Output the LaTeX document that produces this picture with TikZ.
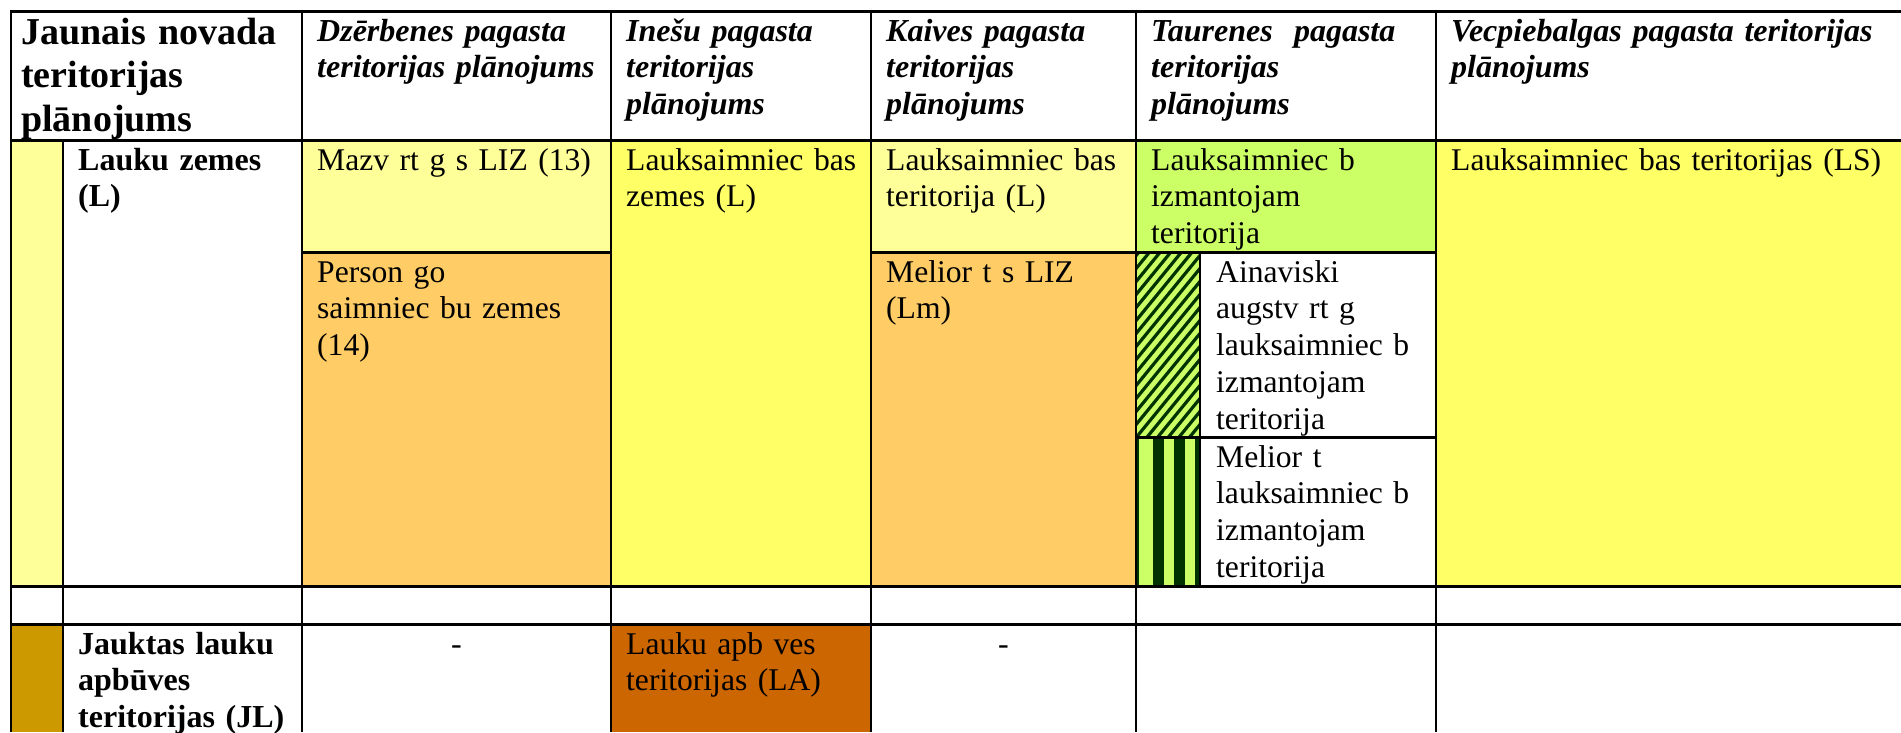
\documentclass[tikz,border=0pt]{standalone}
\usepackage{fontspec}
\setmainfont{Liberation Serif}
\definecolor{ltyel}{HTML}{FFFF99}
\definecolor{yel}{HTML}{FFFF66}
\definecolor{org}{HTML}{FFCC66}
\definecolor{grn}{HTML}{CCFF66}
\definecolor{gold}{HTML}{CC9900}
\definecolor{dorg}{HTML}{CC6600}
\definecolor{dgrn}{HTML}{003300}
\begin{document}
\begin{tikzpicture}[x=1pt,y=-1pt,
  hline/.style={line width=3pt},
  vline/.style={line width=2.4pt},
  firsthead/.style={anchor=base west,inner sep=0pt,align=left,text width=290pt,
    font=\fontsize{38}{43.5}\selectfont\bfseries},
  colhead/.style={anchor=base west,inner sep=0pt,align=left,text width=440pt,
    font=\fontsize{32}{36.8}\selectfont\bfseries\itshape},
  bodytext/.style={anchor=base west,inner sep=0pt,align=left,text width=440pt,
    font=\fontsize{31.6}{36.8}\selectfont},
  boldtext/.style={bodytext,font=\fontsize{32}{36.8}\selectfont\bfseries},
  dashtext/.style={anchor=base,inner sep=0pt,font=\fontsize{32}{36.8}\selectfont}]
\useasboundingbox (0,0) rectangle (1901,732);
\fill[white] (0,0) rectangle (1901,732);
% cell fills
\fill[ltyel] (11,140) rectangle (63,586);
\fill[ltyel] (302,140) rectangle (611,252);
\fill[org] (302,252) rectangle (611,586);
\fill[yel] (611,140) rectangle (871,586);
\fill[ltyel] (871,140) rectangle (1136,252);
\fill[org] (871,252) rectangle (1136,586);
\fill[grn] (1136,140) rectangle (1436,252);
\fill[yel] (1436,140) rectangle (1901,586);
\fill[gold] (11,624) rectangle (63,732);
\fill[dorg] (611,624) rectangle (871,732);
% diagonal hatch
\begin{scope}
  \clip (1136,252) rectangle (1200,437);
  \fill[grn] (1136,252) rectangle (1200,437);
  \foreach \k in {0,...,24}
    \draw[dgrn,line width=3.2pt] (1130,{250+\k*13}) -- ++(90,-110);
\end{scope}
% vertical stripes
\fill[grn] (1136,437) rectangle (1200,586);
\fill[dgrn] (1136,437) rectangle (1139,586);
\fill[dgrn] (1153,437) rectangle (1164,586);
\fill[dgrn] (1174,437) rectangle (1185,586);
\fill[dgrn] (1195,437) rectangle (1200,586);
% horizontal rules
\draw[hline] (11,11) -- (1901,11);
\draw[hline] (11,140) -- (1901,140);
\draw[hline] (302,252) -- (611,252);
\draw[hline] (871,252) -- (1436,252);
\draw[hline] (1136,437) -- (1436,437);
\draw[hline] (11,586) -- (1901,586);
\draw[hline] (11,624) -- (1901,624);
% vertical rules
\draw[vline] (11,9.5) -- (11,732);
\draw[vline] (63,140) -- (63,732);
\foreach \x in {302,611,871,1136,1436}
  \draw[vline] (\x,9.5) -- (\x,732);
\draw[vline] (1200,252) -- (1200,586);
% header texts
\node[firsthead] (h0) at (21,44) {Jaunais novada\\teritorijas\\plānojums};
\node[colhead] (h1) at (317,41) {Dzērbenes pagasta\\teritorijas plānojums};
\node[colhead] (h2) at (626,41) {Inešu pagasta\\teritorijas\\plānojums};
\node[colhead] (h3) at (886,41) {Kaives pagasta\\teritorijas\\plānojums};
\node[colhead] (h4) at (1151,41) {Taurenes\ \ pagasta\\teritorijas\\plānojums};
\node[colhead] (h5) at (1451,41) {Vecpiebalgas pagasta teritorijas\\plānojums};
% row 1
\node[boldtext] (c1) at (78,170) {Lauku zemes\\(L)};
\node[bodytext] (c2) at (317,170) {Mazv rt g s LIZ (13)};
\node[bodytext] (c3) at (317,282) {Person go\\saimniec bu zemes\\(14)};
\node[bodytext] (c4) at (626,170) {Lauksaimniec bas\\zemes (L)};
\node[bodytext] (c5) at (886,170) {Lauksaimniec bas\\teritorija (L)};
\node[bodytext] (c6) at (886,282) {Melior t s LIZ\\(Lm)};
\node[bodytext] (c7) at (1151,170) {Lauksaimniec b\\izmantojam\\teritorija};
\node[bodytext] (c8) at (1216,282) {Ainaviski\\augstv rt g\\lauksaimniec b\\izmantojam\\teritorija};
\node[bodytext] (c9) at (1216,467) {Melior t\\lauksaimniec b\\izmantojam\\teritorija};
\node[bodytext] (c10) at (1451,170) {Lauksaimniec bas teritorijas (LS)};
% row 3
\node[boldtext] (c11) at (78,654) {Jauktas lauku\\apbūves\\teritorijas (JL)};
\node[dashtext] (c12) at (456.5,654) {-};
\node[bodytext] (c13) at (626,654) {Lauku apb ves\\teritorijas (LA)};
\node[dashtext] (c14) at (1003.5,654) {-};
\end{tikzpicture}
\end{document}
